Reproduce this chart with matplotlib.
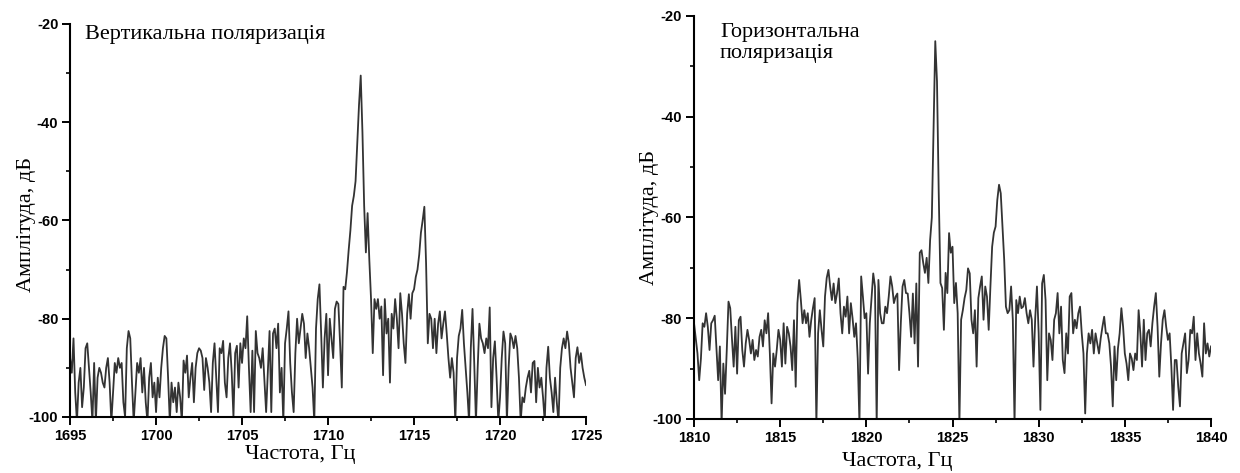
import numpy as np
import matplotlib
matplotlib.use("Agg")
import matplotlib.pyplot as plt
from matplotlib.ticker import MultipleLocator

# Spectrum, vertical polarisation (step 0.1 Hz, 1695 ... 1725 Hz)
vert_freq = np.linspace(1695, 1725, 301)
vert_amp = [
    -88, -91, -84, -95, -101, -93, -90, -98, -94, -86,
    -85, -90, -95, -101, -89, -101, -92, -90, -91, -93,
    -94, -90, -88, -93, -101, -95, -89, -91, -88, -90,
    -89, -97, -100, -86, -82.5, -84, -93, -101, -95, -89,
    -91, -88, -95, -90, -97, -101, -92, -89, -96, -93,
    -99, -92, -96, -90, -86, -83.5, -84, -92, -101, -93,
    -97, -94, -99, -93, -96, -101, -88.5, -91, -87.5, -96,
    -92, -89, -97, -90, -87, -86, -86.5, -88, -94.5, -88,
    -90, -93, -99, -89, -85, -92, -99, -86, -87, -84.5,
    -93, -96, -88, -85, -91, -100, -87, -85.5, -94, -85,
    -89, -84, -86, -79.5, -90, -99, -86.5, -99, -82.5, -87,
    -88, -90, -86, -92.5, -99, -91, -82.5, -99, -83, -82,
    -86, -81, -95, -90, -101, -85, -82, -78.5, -89, -95,
    -99, -87, -80, -85, -82, -79, -81, -88, -83, -86,
    -90, -94, -101, -82, -76, -73, -83, -94, -84, -79,
    -91.5, -80, -84, -88, -78, -76.5, -77, -85, -94, -73.5,
    -74, -70.5, -66, -62, -57, -55, -52, -44, -36.5, -30.5,
    -42, -57, -66.5, -58.5, -68, -76, -87, -76, -78, -76,
    -80, -77.5, -91.5, -76, -83, -80, -93, -79, -82, -76,
    -80, -86, -74.8, -79, -85, -89, -79, -75, -80, -74.8,
    -74, -71.5, -70, -67, -62.5, -60, -57.2, -68.7, -85, -79,
    -80, -86, -80, -87, -81, -78.5, -84, -81, -78.5, -83,
    -88, -92, -88, -91, -101, -88, -83.5, -82, -78.2, -85,
    -90, -95, -101, -86, -78, -89, -101, -90, -81, -84,
    -85, -87, -84, -86, -77.7, -98, -88, -84.6, -92, -101,
    -96, -88, -82.6, -85, -101, -90, -83, -84, -86, -83.5,
    -86, -92, -101, -96, -97, -94, -92, -90.6, -95, -89,
    -88.6, -97, -90, -94, -92, -96, -101, -90, -85.7, -92,
    -95, -99, -92, -97, -101, -90, -86, -84, -86, -82.6,
    -85, -90, -93, -96, -88, -85.8, -89, -87, -90, -92,
    -93.5,
]

# Spectrum, horizontal polarisation (step 0.1 Hz, 1810 ... 1840 Hz)
horiz_freq = np.linspace(1810, 1840, 301)
horiz_amp = [
    -81, -84, -87, -92.3, -88, -81, -81.7, -79, -81.7, -86.3,
    -81, -80.4, -79.5, -86, -92.3, -85.6, -101, -89, -95, -86.3,
    -76.7, -78, -84, -89.6, -81.7, -91, -80.4, -79.7, -86.3, -89.6,
    -85, -82.3, -84.3, -87, -84.3, -88.3, -86.3, -87.6, -83.7, -82.3,
    -85.6, -80.4, -83, -79, -87, -96.9, -87, -89.6, -86.3, -82.3,
    -84.3, -89.6, -81, -89, -81.7, -83, -85.6, -90.3, -80.4, -93.6,
    -77, -72.4, -76.4, -81, -78.4, -81, -79, -83.7, -80.4, -78,
    -76, -101, -83, -78.4, -82.3, -85.6, -75.7, -72, -70.4, -73.7,
    -76.4, -73.1, -77, -75, -72.1, -79, -83, -77.7, -79.7, -75.7,
    -83, -77, -80, -83.7, -81, -88, -101, -71.7, -75.7, -80,
    -79, -91, -81, -76, -71.1, -73.7, -101, -72.4, -79, -81,
    -81, -77.7, -79, -75.7, -71.7, -73.7, -77, -75.7, -75.1, -90.3,
    -81, -73.7, -72.4, -75, -75.1, -79, -83.7, -75.1, -85, -73.1,
    -89.6, -67, -66.5, -69, -71, -68, -73, -64.5, -60, -42,
    -25, -33, -55, -73, -74, -82.3, -71, -75, -63.1, -67,
    -65.8, -77, -73, -79, -101, -80.3, -78.4, -76, -74.4, -70.1,
    -71.1, -80.3, -83, -78.4, -89.6, -76, -73.7, -71.7, -80.3, -73.7,
    -75.7, -82.3, -73.7, -65.8, -63, -61.8, -56.5, -53.5, -55.2, -61.8,
    -68.4, -77.7, -79, -78.4, -73.7, -80.3, -101, -76.4, -79, -75.7,
    -78, -77.7, -76, -79, -81, -78.4, -80.3, -89.6, -80, -73.7,
    -83, -98.2, -73.1, -71.4, -76.4, -92.3, -83, -84.3, -88.3, -80.3,
    -79, -75, -83, -77.7, -88.3, -90.9, -83, -87, -75.7, -75,
    -83, -80.3, -82, -79, -77.7, -83, -87, -98.9, -87, -83,
    -85, -82.3, -87, -83, -85, -87, -84, -81.7, -79.7, -83,
    -83, -85, -89.6, -97.5, -85.6, -92.3, -86, -83, -78, -81.7,
    -87, -89, -92.3, -87, -88, -90.3, -87, -88.3, -78.4, -83,
    -89.6, -80.3, -88.3, -83, -82.3, -85.6, -81, -77.7, -75, -81.7,
    -91.6, -85, -80.3, -78.4, -81.7, -84.3, -83, -89.6, -98.2, -88.3,
    -88.3, -93.6, -97.5, -87, -85, -83, -90.9, -88.3, -82.3, -83,
    -79.7, -88.3, -83, -87, -89, -91.6, -81, -87, -85, -87.6,
    -85.6,
]

SERIF = "Liberation Serif"
SANS = "Liberation Sans"

plt.rcParams["axes.unicode_minus"] = False


def draw_spectrum(ax, freq, amp, xlim, note, note_pos, xlabel_pos, ylabel_pos):
    ax.plot(freq, amp, color="#333333", linewidth=1.3)

    ax.set_xlim(*xlim)
    ax.set_ylim(-100, -20)
    ax.xaxis.set_major_locator(MultipleLocator(5))
    ax.xaxis.set_minor_locator(MultipleLocator(2.5))
    ax.yaxis.set_major_locator(MultipleLocator(20))
    ax.yaxis.set_minor_locator(MultipleLocator(10))

    for side in ("top", "right"):
        ax.spines[side].set_visible(False)
    for side in ("left", "bottom"):
        ax.spines[side].set_linewidth(1.5)

    ax.tick_params(which="major", direction="out", length=6, width=1.4,
                   labelsize=10.5, pad=2.5)
    ax.tick_params(which="minor", direction="out", length=3, width=1.2)
    for lbl in ax.get_xticklabels() + ax.get_yticklabels():
        lbl.set_fontfamily(SANS)
        lbl.set_fontweight("bold")

    ax.set_xlabel("Частота, Гц", fontfamily=SERIF, fontsize=16)
    ax.set_ylabel("Амплітуда, дБ", fontfamily=SERIF, fontsize=16)
    ax.xaxis.set_label_coords(*xlabel_pos)
    ax.yaxis.set_label_coords(*ylabel_pos)

    ax.text(note_pos[0], note_pos[1], note, transform=ax.transAxes,
            fontfamily=SERIF, fontsize=16, ha="left", va="center",
            linespacing=1.15)


def main():
    fig = plt.figure(figsize=(12.4, 4.73), dpi=100)
    ax_v = fig.add_axes([0.0565, 0.1184, 0.4161, 0.8309])
    ax_h = fig.add_axes([0.5597, 0.1142, 0.4169, 0.8520])

    draw_spectrum(ax_v, vert_freq, vert_amp, (1695, 1725),
                  "Вертикальна поляризація", (0.029, 0.972),
                  (0.446, -0.072), (-0.066, 0.49))
    draw_spectrum(ax_h, horiz_freq, horiz_amp, (1810, 1840),
                  "Горизонтальна\nполяризація", (0.05, 0.934),
                  (0.393, -0.082), (-0.068, 0.5))

    fig.savefig("out.png", dpi=100)


if __name__ == "__main__":
    main()
